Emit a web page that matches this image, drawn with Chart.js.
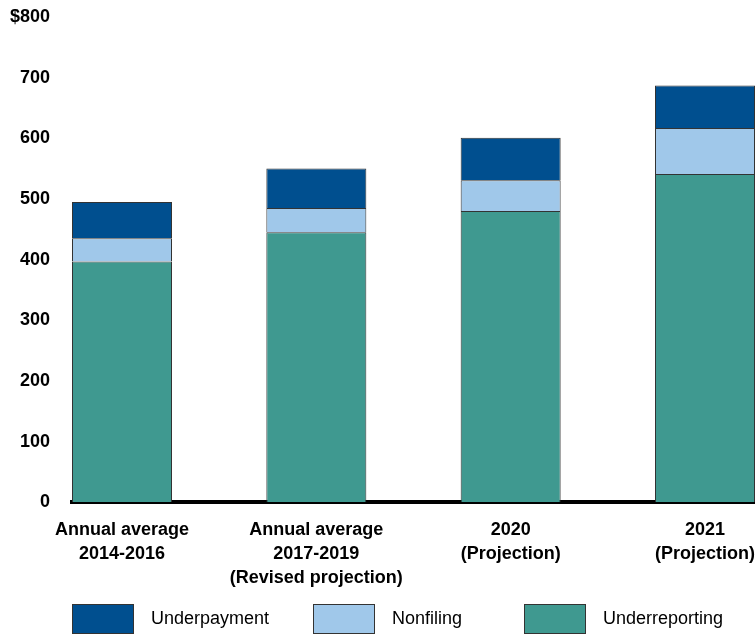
<!DOCTYPE html>
<html>
<head>
<meta charset="UTF-8">
<title>Tax gap</title>
<script src="https://cdn.jsdelivr.net/npm/chart.js@4.4.0/dist/chart.umd.min.js"></script>
<style>
	body { margin:0; background:#fff; font-family: "Liberation Sans", Arial, sans-serif; }
	#wrap { position:relative; width:755px; height:634px; overflow:hidden; }
	#legend { position:absolute; left:0; top:603px; width:755px; height:31px; }
	.item { position:absolute; top:0; height:31px; display:flex; align-items:center; font-size:18px; color:#000; }
	.box { width:62px; height:30px; border:1px solid #333; box-sizing:border-box; margin-right:17px; }
</style>
<script>
	let categories = [["Annual average", "2014-2016"], ["Annual average", "2017-2019", "(Revised projection)"], ["2020", "(Projection)"], ["2021", "(Projection)"]];
	let underreporting = [397, 445, 480, 541];
	let nonfiling = [38, 40, 51, 76];
	let underpayment = [60, 65, 70, 70];
	let yTicks = ["0", "100", "200", "300", "400", "500", "600", "700", "$800"];

	window.onload = function(){
		let pts = function(arr){ return arr.map(function(v, i){ return {x: i, y: v}; }); };
		let sets = [
			{label: "Underreporting", data: pts(underreporting), backgroundColor: "#3f9990"},
			{label: "Nonfiling", data: pts(nonfiling), backgroundColor: "#a0c8ea"},
			{label: "Underpayment", data: pts(underpayment), backgroundColor: "#004f8f"}
		];
		sets.forEach(function(s){ s.borderColor = "#333"; s.borderWidth = 1; s.categoryPercentage = 0.5146; s.barPercentage = 1; });

		// no extra padding from edge tick labels
		let noPad = function(s){ s.paddingLeft = 0; s.paddingRight = 0; s.paddingTop = 0; s.paddingBottom = 0; };

		new Chart("myChart", {
			type: "bar",
			data: { datasets: sets },
			options: {
				animation: false,
				responsive: false,
				layout: { padding: { top: 17, right: 0, left: 9, bottom: 28 } },
				plugins: { legend: {display: false}, tooltip: {enabled: false} },
				scales: {
					x: {
						type: "linear", stacked: true, offset: false,
						min: -0.2573, max: 3.2573,
						grid: {display: false, drawTicks: false, offset: false},
						border: {display: true, color: "#000", width: 4},
						afterBuildTicks: function(s){ s.ticks = categories.map(function(c, i){ return {value: i}; }); },
						afterFit: noPad,
						ticks: {
							color: "#000", padding: 16,
							font: {size: 18, weight: "bold", family: "'Liberation Sans', Arial", lineHeight: 1.33},
							maxRotation: 0, autoSkip: false,
							callback: function(v){ return categories[v]; }
						}
					},
					y: {
						stacked: true, min: 0, max: 800,
						grid: {display: false, drawTicks: false},
						border: {display: false},
						afterFit: function(s){ noPad(s); s.width = 63; },
						ticks: {
							stepSize: 100, color: "#000", padding: 22,
							font: {size: 18, weight: "bold", family: "'Liberation Sans', Arial"},
							callback: function(v){ return yTicks[v / 100]; }
						}
					}
				}
			}
		});

		let pos = [72, 313, 524];
		let legend = document.getElementById("legend");
		sets.slice().reverse().forEach(function(s, i){
			let d = document.createElement("div");
			d.className = "item";
			d.style.left = pos[i] + "px";
			d.innerHTML = '<span class="box" style="background:' + s.backgroundColor + '"></span>' + s.label;
			legend.appendChild(d);
		});
	};
</script>
</head>
<body>
	<div id="wrap">
		<canvas id="myChart" width="755" height="634"></canvas>
		<div id="legend"></div>
	</div>
</body>
</html>
